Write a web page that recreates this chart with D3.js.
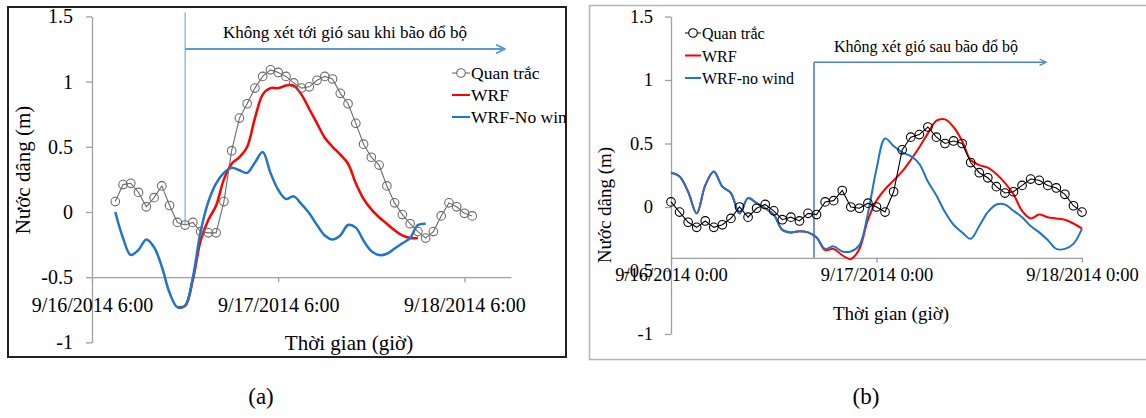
<!DOCTYPE html>
<html>
<head>
<meta charset="utf-8">
<script src="https://cdn.jsdelivr.net/npm/d3@7"></script>
<style>
  body { margin: 0; background: #fff; }
  text { font-family: "Liberation Serif", "Times New Roman", serif; fill: #000; }
</style>
</head>
<body>
<script>
// ---- data ----
// hourly series, value i is at (start + i) hours after the panel origin
const yTicks = [-1, -0.5, 0, 0.5, 1, 1.5];

// panel (a): origin 9/16/2014 6:00
const obsAStart = 3;
const obsA = [0.08, 0.21, 0.22, 0.15, 0.04, 0.11, 0.20, 0.05, -0.08, -0.10,
  -0.08, -0.15, -0.16, -0.16, 0.08, 0.47, 0.72, 0.83, 0.95, 1.04,
  1.09, 1.07, 1.04, 0.99, 0.95, 0.96, 1.01, 1.04, 1.02, 0.91,
  0.83, 0.68, 0.52, 0.42, 0.36, 0.20, 0.07, -0.02, -0.09, -0.15,
  -0.20, -0.15, -0.03, 0.07, 0.04, -0.01, -0.03];
const wrfAStart = 11;
const wrfA = [-0.73, -0.72, -0.52, -0.22, -0.06, 0.05, 0.25, 0.37, 0.42, 0.50,
  0.72, 0.90, 0.95, 0.95, 0.97, 0.97, 0.90, 0.79, 0.68, 0.57,
  0.50, 0.44, 0.37, 0.22, 0.10, 0.02, -0.04, -0.09, -0.14, -0.18,
  -0.20, -0.20];
const noWindAStart = 3;
const noWindA = [0.00, -0.20, -0.33, -0.29, -0.21, -0.27, -0.42, -0.62, -0.73, -0.72,
  -0.50, -0.15, 0.08, 0.22, 0.30, 0.34, 0.32, 0.30, 0.38, 0.46,
  0.30, 0.17, 0.10, 0.12, 0.06, -0.01, -0.10, -0.18, -0.21, -0.18,
  -0.10, -0.12, -0.22, -0.30, -0.33, -0.32, -0.28, -0.24, -0.20, -0.10,
  -0.09];
const ticksA = ["2014-09-16T06:00", "2014-09-17T06:00", "2014-09-18T06:00"];

// panel (b): origin 9/16/2014 0:00
const obsBStart = 0;
const obsB = [0.04, -0.04, -0.12, -0.16, -0.11, -0.16, -0.14, -0.09, 0.00, -0.08,
  -0.01, 0.02, -0.03, -0.10, -0.08, -0.11, -0.05, -0.06, 0.04, 0.05,
  0.13, 0.00, -0.01, 0.03, 0.00, -0.04, 0.12, 0.45, 0.55, 0.57,
  0.63, 0.55, 0.50, 0.52, 0.50, 0.35, 0.27, 0.23, 0.16, 0.11,
  0.12, 0.17, 0.22, 0.21, 0.17, 0.15, 0.10, 0.01, -0.04];
const wrfBStart = 0;
const wrfB = [0.27, 0.24, 0.12, -0.05, 0.17, 0.28, 0.16, 0.11, -0.05, 0.07,
  0.03, -0.01, -0.06, -0.18, -0.20, -0.19, -0.20, -0.24, -0.34, -0.33,
  -0.38, -0.41, -0.33, -0.10, 0.05, 0.14, 0.21, 0.28, 0.37, 0.47,
  0.58, 0.68, 0.69, 0.63, 0.52, 0.37, 0.33, 0.31, 0.26, 0.19,
  0.10, -0.03, -0.09, -0.06, -0.08, -0.09, -0.10, -0.13, -0.17];
const noWindBStart = 0;
const noWindB = [0.27, 0.24, 0.12, -0.05, 0.17, 0.28, 0.16, 0.11, -0.05, 0.07,
  0.03, -0.01, -0.06, -0.18, -0.20, -0.19, -0.20, -0.24, -0.33, -0.31,
  -0.35, -0.35, -0.30, -0.05, 0.30, 0.54, 0.48, 0.43, 0.40, 0.34,
  0.20, 0.09, -0.04, -0.14, -0.20, -0.25, -0.15, -0.04, 0.02, 0.02,
  -0.03, -0.08, -0.15, -0.20, -0.26, -0.33, -0.33, -0.29, -0.17];
const ticksB = ["2014-09-16T00:00", "2014-09-17T00:00", "2014-09-18T00:00"];

// ---- drawing ----
const fmt = d3.timeFormat("%-m/%-d/%Y %-H:%M");
const addH = (d, h) => new Date(d.getTime() + h * 3600e3);

const svg = d3.select('body').append('svg')
  .attr('width', 1146).attr('height', 418);

const defs = svg.append('defs');
function arrowMarker(id, color) {
  defs.append('marker')
    .attr('id', id).attr('viewBox', '0 0 10 10')
    .attr('refX', 9).attr('refY', 5)
    .attr('markerWidth', 5).attr('markerHeight', 5)
    .attr('markerUnits', 'strokeWidth').attr('orient', 'auto')
    .append('path').attr('d', 'M1,1 L9,5 L1,9')
    .attr('fill', 'none').attr('stroke', color).attr('stroke-width', 1.6);
}
arrowMarker('arrA', '#5b9bd5');
arrowMarker('arrB', '#4f81bd');

function toPoints(origin, start, vals) {
  return vals.map((v, i) => ({ t: addH(origin, start + i), v }));
}

function panel(o) {
  const g = svg.append('g');
  const x = d3.scaleTime().domain(o.xDomain).range(o.xRange);
  const y = d3.scaleLinear().domain([-1, 1.5]).range(o.yRange);

  // clip to the frame (legend text is cut at the border in (a))
  defs.append('clipPath').attr('id', o.clipId).append('rect')
    .attr('x', o.frame[0]).attr('y', o.frame[1])
    .attr('width', o.frame[2]).attr('height', o.frame[3]);

  // frame
  g.append('rect')
    .attr('x', o.frame[0]).attr('y', o.frame[1])
    .attr('width', o.frame[2]).attr('height', o.frame[3])
    .attr('fill', 'none').attr('stroke', o.frameColor).attr('stroke-width', o.frameWidth);

  // y axis
  const ya = g.append('g')
    .attr('transform', `translate(${o.xRange[0]},0)`)
    .call(d3.axisLeft(y).tickValues(yTicks).tickSize(6).tickSizeOuter(0)
      .tickPadding(o.yPad).tickFormat(d => String(d)));
  ya.selectAll('path,line').attr('stroke', '#a0a0a0').attr('stroke-width', 1.3);
  ya.selectAll('text').attr('font-size', o.tickFont);

  // x axis
  const xa = g.append('g')
    .attr('transform', `translate(0,${y(o.xAxisAt)})`)
    .call(d3.axisBottom(x).tickValues(o.ticks.map(s => new Date(s)))
      .tickSize(5).tickSizeOuter(0).tickFormat(fmt));
  xa.selectAll('path,line').attr('stroke', '#a0a0a0').attr('stroke-width', 1.3);
  xa.selectAll('text').attr('font-size', o.tickFont)
    .attr('y', o.xLabelY).attr('dy', 0);

  // titles
  g.append('text').attr('transform', `translate(${o.yTitle[0]},${o.yTitle[1]}) rotate(-90)`)
    .attr('text-anchor', 'middle').attr('font-size', o.titleFont).text('Nước dâng (m)');
  g.append('text').attr('x', o.xTitle[0]).attr('y', o.xTitle[1])
    .attr('text-anchor', 'middle').attr('font-size', o.titleFont).text('Thời gian (giờ)');

  // landfall marker + arrow
  const lx = x(o.landfall);
  g.append('line').attr('x1', lx).attr('x2', lx)
    .attr('y1', y(o.vTop)).attr('y2', y(o.vBottom))
    .attr('stroke', o.arrowColor).attr('stroke-width', o.vWidth);
  g.append('line').attr('x1', lx).attr('x2', x(o.arrowEnd))
    .attr('y1', y(o.arrowY)).attr('y2', y(o.arrowY))
    .attr('stroke', o.arrowColor).attr('stroke-width', o.hWidth)
    .attr('marker-end', `url(#${o.marker})`);
  g.append('text').attr('x', o.noteXY[0]).attr('y', o.noteXY[1])
    .attr('text-anchor', 'middle').attr('font-size', o.noteFont).text(o.note);

  // series
  const line = d3.line().x(d => x(d.t)).y(d => y(d.v));
  const smooth = d3.line().x(d => x(d.t)).y(d => y(d.v)).curve(d3.curveCatmullRom.alpha(0.5));
  g.append('path').datum(o.wrf).attr('d', smooth)
    .attr('fill', 'none').attr('stroke', '#ff0000').attr('stroke-width', o.lw);
  g.append('path').datum(o.noWind).attr('d', smooth)
    .attr('fill', 'none').attr('stroke', '#1f75c6').attr('stroke-width', o.lw);
  g.append('path').datum(o.obs).attr('d', line)
    .attr('fill', 'none').attr('stroke', o.obsColor).attr('stroke-width', 1.1);
  g.selectAll('circle.obs').data(o.obs).enter().append('circle')
    .attr('class', 'obs').attr('cx', d => x(d.t)).attr('cy', d => y(d.v)).attr('r', 4.3)
    .attr('fill', 'none').attr('stroke', o.obsColor).attr('stroke-width', 1.1);

  // legend
  const lg = g.append('g').attr('clip-path', `url(#${o.clipId})`)
    .append('g').attr('transform', `translate(${o.legend[0]},${o.legend[1]})`);
  const items = [
    { name: 'Quan trắc', color: o.obsColor, w: 1.1, mark: true },
    { name: 'WRF', color: '#ff0000', w: 2, mark: false },
    { name: o.noWindName, color: '#1f75c6', w: 2, mark: false }
  ];
  items.forEach((it, i) => {
    const row = lg.append('g').attr('transform', `translate(0,${i * o.legendStep})`);
    row.append('line').attr('x1', 0).attr('x2', o.legendLen).attr('y1', 0).attr('y2', 0)
      .attr('stroke', it.color).attr('stroke-width', it.w);
    if (it.mark) row.append('circle').attr('cx', o.legendLen / 2).attr('cy', 0).attr('r', 4.3)
      .attr('fill', '#fff').attr('stroke', it.color).attr('stroke-width', 1.1);
    row.append('text').attr('x', o.legendLen + 1).attr('y', 6)
      .attr('font-size', o.legendFont).text(it.name);
  });
}

const originA = new Date(2014, 8, 16, 6);
const originB = new Date(2014, 8, 16, 0);

panel({
  clipId: 'clipA',
  xDomain: [originA, addH(originA, 54)], xRange: [92, 511], yRange: [342.4, 16.4],
  frame: [8, 7, 558, 350], frameColor: '#222', frameWidth: 2,
  xAxisAt: -0.5, ticks: ticksA, xLabelY: 35, yPad: 13, tickFont: 20,
  titleFont: 21, yTitle: [30, 170], xTitle: [349, 350],
  landfall: addH(originA, 12), vTop: 1.53, vBottom: -0.1, arrowY: 1.25,
  arrowEnd: addH(originA, 53.2), arrowColor: '#5b9bd5', vWidth: 1, hWidth: 2.2, marker: 'arrA',
  note: 'Không xét tới gió sau khi bão đổ bộ', noteXY: [345, 38], noteFont: 17,
  obs: toPoints(originA, obsAStart, obsA),
  wrf: toPoints(originA, wrfAStart, wrfA),
  noWind: toPoints(originA, noWindAStart, noWindA),
  obsColor: '#6b6b6b', lw: 2.5,
  legend: [452, 73], legendStep: 22, legendLen: 18, legendFont: 17.5, noWindName: 'WRF-No wind'
});

panel({
  clipId: 'clipB',
  xDomain: [originB, addH(originB, 48)], xRange: [671, 1082], yRange: [334, 16.5],
  frame: [589.5, 5.5, 570, 354], frameColor: '#b5b5b5', frameWidth: 1.5,
  xAxisAt: -0.4, ticks: ticksB, xLabelY: 23, yPad: 12, tickFont: 18.5,
  titleFont: 19, yTitle: [611, 205], xTitle: [891, 320],
  landfall: addH(originB, 16.7), vTop: 1.14, vBottom: -0.4, arrowY: 1.14,
  arrowEnd: addH(originB, 43.8), arrowColor: '#4f81bd', vWidth: 1.6, hWidth: 1.6, marker: 'arrB',
  note: 'Không xét gió sau bão đổ bộ', noteXY: [926, 52], noteFont: 16,
  obs: toPoints(originB, obsBStart, obsB),
  wrf: toPoints(originB, wrfBStart, wrfB),
  noWind: toPoints(originB, noWindBStart, noWindB),
  obsColor: '#000', lw: 2,
  legend: [685, 33], legendStep: 22.5, legendLen: 16, legendFont: 16, noWindName: 'WRF-no wind'
});

// panel captions
svg.append('text').attr('x', 261).attr('y', 404).attr('text-anchor', 'middle')
  .attr('font-size', 23).text('(a)');
svg.append('text').attr('x', 866).attr('y', 404).attr('text-anchor', 'middle')
  .attr('font-size', 23).text('(b)');
</script>
</body>
</html>
